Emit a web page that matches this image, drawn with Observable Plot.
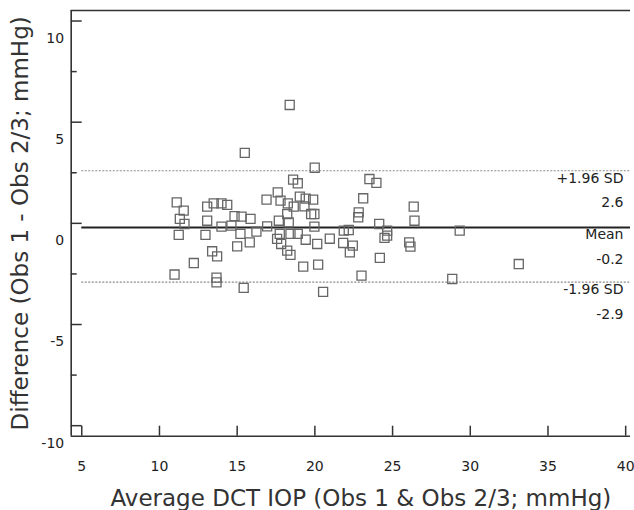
<!DOCTYPE html>
<html><head><meta charset="utf-8">
<script src="https://cdn.jsdelivr.net/npm/d3@7"></script>
<script src="https://cdn.jsdelivr.net/npm/@observablehq/plot@0.6"></script>
<style>html,body{margin:0;padding:0;background:#fff} svg{display:block}</style>
</head><body><div id="chart"></div>
<script>
// Average of the two observers (x) and their difference (y)
const avgIOP = [
  11.11, 11.56, 11.31, 11.61, 11.24, 10.97,
  12.21, 13.07, 13.49, 13.99, 14.36, 13.07, 12.96, 13.39, 13.71, 13.67, 13.67, 13.99,
  15.49, 14.63, 14.83, 15.28, 15.21, 15.00, 15.81, 15.86, 16.24, 15.42,
  18.38, 18.60, 18.90, 16.89, 17.61, 17.79, 18.26, 18.64, 19.03, 18.22, 16.93, 17.68, 18.32, 17.74, 17.57, 17.83, 18.43, 18.90, 18.22, 18.43,
  19.99, 19.41, 19.89, 19.33, 19.76, 19.97, 19.97, 19.41, 20.15, 19.25, 20.21, 20.53,
  23.51, 23.96, 23.11, 22.82, 22.79, 26.36, 26.41, 20.96, 21.86, 22.18, 21.82, 22.44, 22.25, 24.14, 24.65, 24.48, 24.65, 26.07, 26.15, 24.18, 23.00,
  29.32, 28.84, 33.12
];
const diffIOP = [
  1.04, 0.63, 0.22, -0.03, -0.57, -2.53,
  -1.96, 0.83, 0.99, 0.99, 0.91, 0.13, -0.57, -1.38, -1.63, -2.68, -2.92, -0.16,
  3.48, -0.11, 0.36, 0.33, -0.52, -1.14, -0.94, 0.22, -0.41, -3.19,
  5.85, 2.16, 1.98, 1.17, 1.53, 1.12, 0.99, 0.83, 1.32, 0.46, -0.15, 0.13, 0.05, -0.52, -0.77, -1.02, -0.52, -0.52, -1.35, -1.56,
  2.75, 1.22, 1.17, 0.84, 0.46, 0.46, -0.16, -0.81, -1.02, -2.14, -2.04, -3.39,
  2.19, 2.00, 1.24, 0.54, 0.30, 0.83, 0.13, -0.76, -0.36, -0.33, -0.97, -1.10, -1.43, -0.03, -0.36, -0.72, -0.61, -0.94, -1.15, -1.71, -2.58,
  -0.36, -2.75, -2.01
];
const limitNames = ["+1.96 SD", "Mean", "-1.96 SD"];
const limitValues = [2.6, -0.2, -2.9];
const xTicks = [5, 10, 15, 20, 25, 30, 35, 40];
const yMajorTicks = [-10, -5, 0, 5, 10];
const yMinorTicks = [-7.5, -2.5, 2.5, 7.5];
const xTitle = "Average DCT IOP (Obs 1 & Obs 2/3; mmHg)";
const yTitle = "Difference (Obs 1 - Obs 2/3; mmHg)";

const W = 634, H = 510;
const mL = 70.7, mR = 4, mT = 10, mB = 74.3;
const frameW = W - mL - mR, frameH = H - mT - mB;
const xDomain = [4.32, 40.31];
const yDomain = [-10.52, 10.52];
const axisColor = "#333";
const font = "'DejaVu Sans', Verdana, sans-serif";

const points = avgIOP.map((x, i) => ({x, y: diffIOP[i]}));

const chart = Plot.plot({
  width: W, height: H,
  marginLeft: mL, marginRight: mR, marginTop: mT, marginBottom: mB,
  style: {fontFamily: font, fontSize: "14px", color: "#222", background: "#fff"},
  x: {domain: xDomain, axis: null},
  y: {domain: yDomain, axis: null},
  marks: [
    // limits of agreement
    Plot.ruleY([limitValues[0], limitValues[2]], {x1: xTicks[0], x2: xDomain[1], stroke: "#8a8a8a", strokeWidth: 1.2, strokeDasharray: "2,1.5"}),
    Plot.ruleY([limitValues[1]], {x1: xTicks[0], x2: xDomain[1], stroke: "#222", strokeWidth: 2}),
    // data points
    Plot.dot(points, {x: "x", y: "y", symbol: "square", r: 5.1, stroke: "#666", strokeWidth: 1.3, fill: "none"}),
    // frame: left, bottom, top
    Plot.ruleX([xDomain[0]], {stroke: axisColor, strokeWidth: 1.6}),
    Plot.ruleY([yDomain[0], yDomain[1]], {stroke: axisColor, strokeWidth: 1.6}),
    // inward ticks
    Plot.ruleX(xTicks, {insetTop: frameH - 10, stroke: axisColor, strokeWidth: 1.5}),
    Plot.ruleY(yMajorTicks, {insetRight: frameW - 11, stroke: axisColor, strokeWidth: 1.5}),
    Plot.ruleY(yMinorTicks, {insetRight: frameW - 6, stroke: axisColor, strokeWidth: 1.5}),
    // tick labels
    Plot.axisX({ticks: xTicks, tickSize: 0, tickPadding: 25, tickFormat: d => String(d), fill: "#222", label: null}),
    Plot.axisY({ticks: yMajorTicks, tickSize: 0, tickPadding: 7, dy: 17.5, tickFormat: d => String(d), fill: "#222", label: null}),
    // annotations at right
    Plot.text(limitNames, {text: d => d, y: (d, i) => limitValues[i], frameAnchor: "right", textAnchor: "end", dx: -7, dy: 7.5, fill: "#222"}),
    Plot.text(limitValues, {text: d => d.toFixed(1), y: d => d, frameAnchor: "right", textAnchor: "end", dx: -7, dy: 32, fill: "#222"}),
    // axis titles
    Plot.text([xTitle], {text: d => d, frameAnchor: "bottom", textAnchor: "middle", dy: 62, dx: 10, fontSize: 23, fill: "#333", lineAnchor: "middle"}),
    Plot.text([yTitle], {text: d => d, frameAnchor: "left", textAnchor: "middle", dx: -51, rotate: -90, fontSize: 23, fill: "#333", lineAnchor: "middle"})
  ]
});
document.getElementById("chart").appendChild(chart);
</script>
</body></html>
